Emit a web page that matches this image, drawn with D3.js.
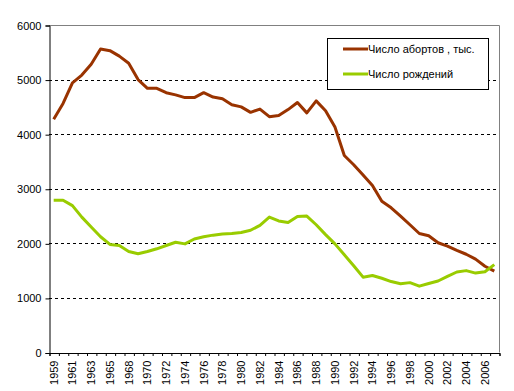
<!DOCTYPE html>
<html>
<head>
<meta charset="utf-8">
<script src="https://cdn.jsdelivr.net/npm/d3@7"></script>
<style>
  body { margin: 0; background: #fff; }
  svg text { font-family: "Liberation Sans", Arial, sans-serif; font-size: 11px; fill: #000; }
</style>
</head>
<body>
<div id="chart"></div>
<script>
// categories (1967 is absent in the source table)
var years = ["1959","1960","1961","1962","1963","1964","1965","1966",
    "1968","1969","1970","1971","1972","1973","1974","1975","1976","1977",
    "1978","1979","1980","1981","1982","1983","1984","1985","1986","1987",
    "1988","1989","1990","1991","1992","1993","1994","1995","1996","1997",
    "1998","1999","2000","2001","2002","2003","2004","2005","2006","2007"];

var abortions = [4275, 4563, 4941, 5083, 5280, 5560, 5530, 5430,
    5300, 5000, 4840, 4840, 4760, 4720, 4670, 4670, 4760, 4680,
    4650, 4540, 4500, 4400, 4460, 4320, 4340, 4450, 4580, 4390,
    4610, 4430, 4130, 3610, 3440, 3250, 3060, 2770, 2650, 2500,
    2340, 2180, 2140, 2010, 1950, 1870, 1800, 1710, 1580, 1490];

var births = [2790, 2790, 2690, 2480, 2300, 2120, 1980, 1960,
    1850, 1810, 1850, 1900, 1960, 2020, 1990, 2080, 2120, 2150,
    2170, 2180, 2200, 2240, 2330, 2480, 2410, 2380, 2490, 2500,
    2340, 2160, 1990, 1790, 1590, 1380, 1410, 1360, 1300, 1260,
    1280, 1215, 1265, 1310, 1395, 1475, 1500, 1455, 1480, 1610];

var yTicks = [0, 1000, 2000, 3000, 4000, 5000, 6000];

var seriesNames = ["Число абортов , тыс.", "Число рождений"];
var seriesColors = ["#993300", "#99cc00"];

var W = 514, H = 391;
var plotLeft = 49, plotRight = 499, plotTop = 25, plotBottom = 352.5;

var svg = d3.select("#chart").append("svg")
    .attr("width", W).attr("height", H);

var x = d3.scaleBand().domain(years).range([plotLeft, plotRight]).padding(0);
var y = d3.scaleLinear().domain([0, 6000]).range([plotBottom, plotTop]);

// grid lines
svg.append("g").selectAll("line")
    .data(yTicks.filter(function(d) { return d > 0 && d < 6000; }))
    .enter().append("line")
    .attr("x1", plotLeft).attr("x2", plotRight)
    .attr("y1", function(d) { return Math.round(y(d)) + 0.5; })
    .attr("y2", function(d) { return Math.round(y(d)) + 0.5; })
    .attr("stroke", "#000").attr("stroke-dasharray", "3,3");

// frame top / right
svg.append("path")
    .attr("d", "M" + plotLeft + "," + (plotTop + 0.5) + "H" + (plotRight + 0.5) + "V" + plotBottom)
    .attr("fill", "none").attr("stroke", "#808080");

// y axis
var yAxis = svg.append("g")
    .attr("transform", "translate(" + (plotLeft + 0.5) + ",0.5)")
    .call(d3.axisLeft(y).tickValues(yTicks).tickSize(4).tickPadding(4).tickFormat(d3.format("d")));
yAxis.select(".domain").attr("stroke", "#000");
yAxis.attr("font-family", null).attr("font-size", null);

// x axis: tick marks on category boundaries
var xb = d3.scaleLinear().domain([0, years.length]).range([plotLeft, plotRight]);
var xTickAxis = svg.append("g")
    .attr("transform", "translate(0.5," + (plotBottom + 0.5) + ")")
    .call(d3.axisBottom(xb).tickValues(d3.range(years.length + 1)).tickSize(3).tickFormat(""));
xTickAxis.select(".domain").attr("stroke", "#000");

// x labels, every second category
svg.append("g").selectAll("text")
    .data(years.filter(function(d, i) { return i % 2 === 0; }))
    .enter().append("text")
    .attr("transform", function(d) {
        return "translate(" + (x(d) + x.bandwidth() / 2) + "," + (plotBottom + 8) + ") rotate(-90)";
    })
    .attr("text-anchor", "end")
    .attr("dy", "0.35em")
    .text(function(d) { return d; });

// lines
var line = d3.line()
    .x(function(d, i) { return x(years[i]) + x.bandwidth() / 2; })
    .y(function(d) { return y(d); });

[abortions, births].forEach(function(s, k) {
    svg.append("path")
        .datum(s)
        .attr("d", line)
        .attr("fill", "none")
        .attr("stroke", seriesColors[k])
        .attr("stroke-width", 3)
        .attr("stroke-linejoin", "round");
});

// legend
var lg = svg.append("g");
lg.append("rect")
    .attr("x", 327.5).attr("y", 38.5).attr("width", 161).attr("height", 51)
    .attr("fill", "#fff").attr("stroke", "#000");
seriesNames.forEach(function(n, k) {
    var ly = 49 + k * 25;
    lg.append("line")
        .attr("x1", 343).attr("x2", 368).attr("y1", ly).attr("y2", ly)
        .attr("stroke", seriesColors[k]).attr("stroke-width", 3);
    lg.append("text")
        .attr("x", 368).attr("y", ly).attr("dy", "0.35em")
        .text(n);
});
</script>
</body>
</html>
